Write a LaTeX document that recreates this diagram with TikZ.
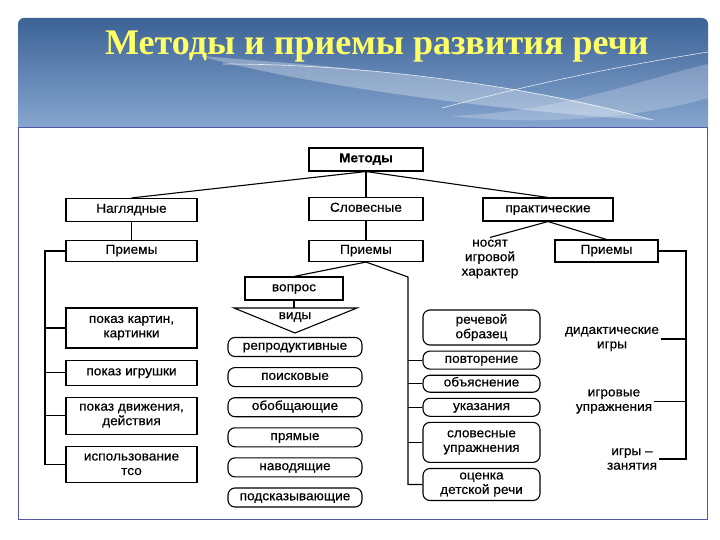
\documentclass[tikz,border=0pt]{standalone}
\usepackage{fontspec}
\setmainfont{Liberation Serif}
\setsansfont{Liberation Sans}[FakeStretch=1.05, FakeBold=0.4]
\usepackage{tikz}
\usetikzlibrary{positioning}

\definecolor{headtop}{HTML}{3C6296}
\definecolor{headbot}{HTML}{8FAED6}
\definecolor{titleyel}{HTML}{FFFF66}
\definecolor{frameblue}{HTML}{5555AA}

\tikzset{
  every node/.style={font=\sffamily\fontsize{13}{14.5}\selectfont},
  hbox/.style={draw, line width=1.1pt, minimum width=114pt, minimum height=23pt, inner sep=1pt,
    text height=7.5pt, text depth=2pt},
  lbox/.style={hbox, minimum width=131pt},
  mbox/.style={draw, line width=1.1pt, minimum width=131pt, inner sep=1pt, align=center},
  rbox/.style={draw, line width=1.1pt, rounded corners=7pt, minimum width=134pt, minimum height=19pt, inner sep=0.5pt,
    text height=7.5pt, text depth=2pt},
  sbox/.style={rbox, minimum width=117pt},
  sbox2/.style={draw, line width=1.1pt, rounded corners=7pt, minimum width=117pt, inner sep=0.5pt, align=center},
  note/.style={align=center, inner sep=2pt},
  link/.style={line width=1.1pt}
}

\begin{document}
\begin{tikzpicture}[x=1pt,y=-1pt]
  \useasboundingbox (0,0) rectangle (720,540);
  % header
  \shade[top color=headtop, bottom color=headbot, rounded corners=6pt] (18,18) rectangle (708,140);
  \fill[white, opacity=0.3] (200,56) .. controls (330,66) and (520,80) .. (652,120)
    .. controls (560,116) and (330,92) .. cycle;
  \fill[white, opacity=0.22] (708,64) .. controls (640,80) and (560,112) .. (450,116)
    .. controls (540,126) and (640,118) .. (708,98) -- cycle;
  \draw[white, opacity=0.8, line width=0.6pt] (223,64) .. controls (360,64) and (520,84) .. (653,120);
  \draw[white, opacity=0.8, line width=0.6pt] (442,108) .. controls (540,82) and (620,66) .. (708,52);
  \node[font=\rmfamily\bfseries\fontsize{36}{40}\selectfont, text=titleyel, anchor=base west, inner sep=0pt]
    (title) at (105,55) {Методы и приемы развития речи};
  % frame
  \filldraw[fill=white, draw=frameblue, line width=0.8pt] (18.5,127.5) rectangle (707.5,519.5);

  % top levels
  \node[hbox, font=\sffamily\bfseries\fontsize{13}{14.5}\selectfont] (metody) at (366,159.5) {Методы};
  \node[lbox] (nagl) at (131.5,210) {Наглядные};
  \node[hbox] (slov) at (366,209) {Словесные};
  \node[hbox, minimum width=130pt] (prakt) at (548,209.5) {практические};
  \node[lbox, minimum height=21pt] (priem_n) at (131.5,251) {Приемы};
  \node[hbox, minimum height=21pt] (priem_s) at (366,251) {Приемы};
  \node[hbox, minimum width=103pt, minimum height=22pt] (priem_p) at (606.5,251) {Приемы};
  \node[note] (nosyat) at (490,259) {носят\\игровой\\характер};

  % visual
  \node[mbox, minimum height=40pt] (kart) at (131.5,328) {показ картин,\\картинки};
  \node[lbox, minimum height=25pt] (igr) [below=11pt of kart] {показ игрушки};
  \node[mbox, minimum height=37pt] (dvizh) [below=11pt of igr] {показ движения,\\действия};
  \node[mbox, minimum height=36pt] (tso) [below=11pt of dvizh] {использование\\тсо};

  % question
  \node[hbox, minimum width=98pt] (vopros) at (294,288.5) {вопрос};
  \coordinate (vid_l) at (234,308);
  \coordinate (vid_r) at (357,308);
  \coordinate (vid_a) at (295,333);
  \node[inner sep=0pt] (vidy) at (295,317) {виды};
  \node[rbox] (reprod) at (295,347) {репродуктивные};
  \node[rbox] (poisk) [below=10pt of reprod] {поисковые};
  \node[rbox] (obobsh) [below=10pt of poisk] {обобщающие};
  \node[rbox] (pryam) [below=10pt of obobsh] {прямые};
  \node[rbox] (navod) [below=10pt of pryam] {наводящие};
  \node[rbox] (podsk) [below=10pt of navod] {подсказывающие};

  % verbal
  \node[sbox2, minimum height=35pt] (rech) at (481.5,327.5) {речевой\\образец};
  \node[sbox, minimum height=18pt] (povt) [below=5pt of rech] {повторение};
  \node[sbox, minimum height=17pt] (obyas) [below=5pt of povt] {объяснение};
  \node[sbox, minimum height=18pt] (ukaz) [below=5pt of obyas] {указания};
  \node[sbox2, minimum height=40pt] (slupr) [below=5pt of ukaz] {словесные\\упражнения};
  \node[sbox2, minimum height=32pt] (ocenka) [below=5pt of slupr] {оценка\\детской речи};

  % practical
  \node[note] (didak) at (612,339) {дидактические\\игры};
  \node[note] (igrupr) at (614,401.5) {игровые\\упражнения};
  \node[note] (zanyat) at (632,459) {игры –\\занятия};

  % connectors
  \coordinate (lbus) at (45,251);
  \coordinate (sbus) at (408,277);
  \coordinate (pbus) at (686,251);
  \draw[link] (metody.south) -- (nagl.north);
  \draw[link] (metody.south) -- (slov.north);
  \draw[link] (metody.south) -- (prakt.north);
  \draw[link] (nagl) -- (priem_n);
  \draw[link] (slov) -- (priem_s);
  \draw[link] (prakt.south) -- (nosyat.north);
  \draw[link] (prakt.south) -- (priem_p.north);
  \draw[link] (priem_n.west) -- (lbus) |- (tso.west);
  \foreach \n in {kart,igr,dvizh}
    \draw[link] (\n.west) -- (\n.west -| lbus);
  \draw[link] (priem_s.south) -- (vopros.north);
  \draw[link] (vopros.south) -- (vopros.south |- vid_l);
  \draw[link, line join=miter] (vid_l) -- (vid_r) -- (vid_a) -- cycle;
  \draw[link] (priem_s.south) -- (sbus) |- (ocenka.west);
  \foreach \n in {povt,obyas,ukaz,slupr}
    \draw[link] (\n.west) -- (\n.west -| sbus);
  \draw[link] (priem_p.east) -- (pbus) |- (zanyat.east);
  \foreach \n in {didak,igrupr}
    \draw[link] (\n.east) -- (\n.east -| pbus);
\end{tikzpicture}
\end{document}
